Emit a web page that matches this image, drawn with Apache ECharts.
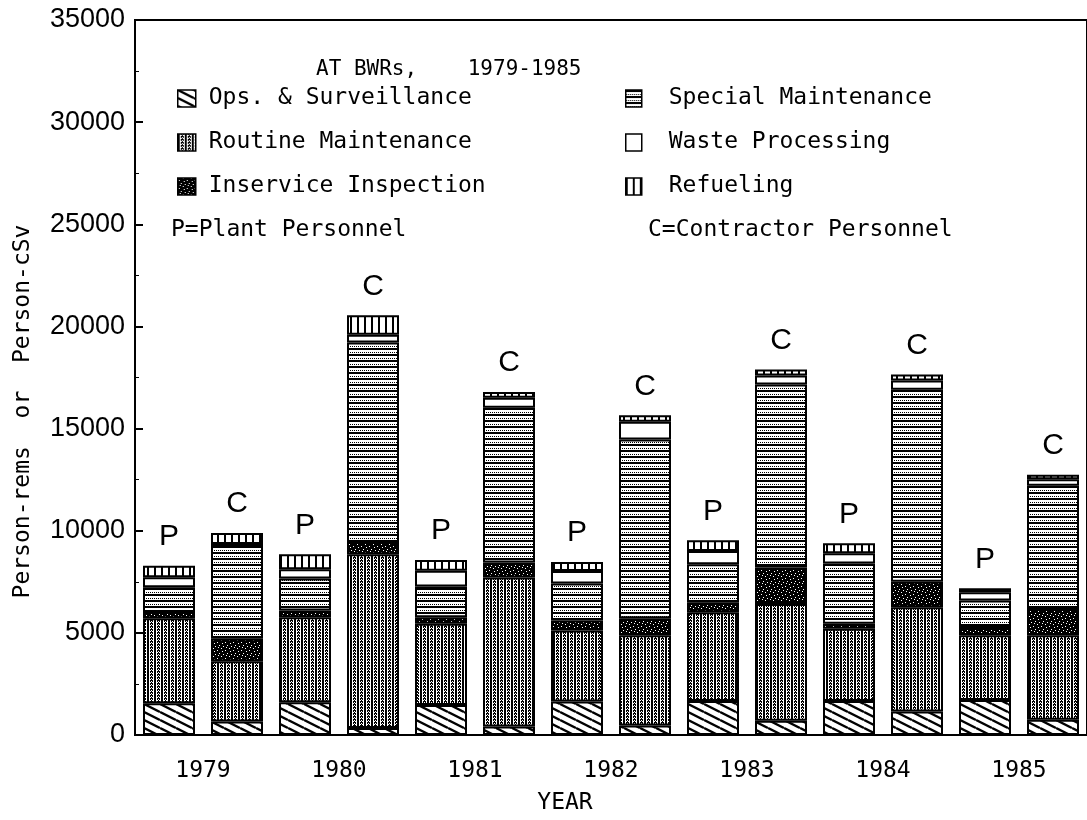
<!DOCTYPE html>
<html>
<head>
<meta charset="utf-8">
<script src="https://cdn.jsdelivr.net/npm/echarts@6/dist/echarts.min.js"></script>
<style>
html,body{margin:0;padding:0;background:#fff;}
#chart{width:1087px;height:820px;}
</style>
</head>
<body>
<div id="chart"></div>
<script>
// ---- data ----
const categories = ['1979','1979','1980','1980','1981','1981','1982','1982','1983','1983','1984','1984','1985','1985'];
const personnel = ['P','C','P','C','P','C','P','C','P','C','P','C','P','C'];
const years = ['1979','1980','1981','1982','1983','1984','1985'];
const yTicks = [0,5000,10000,15000,20000,25000,30000,35000];
const opsSurveillance   = [1556, 666, 1604, 340, 1474, 421, 1637, 470, 1669, 697, 1669, 1150, 1718, 745];
const routineMaint      = [4164, 2946, 4166, 8507, 3970, 7292, 3483, 4407, 4343, 5720, 3532, 5105, 3159, 4132];
const inserviceInsp     = [300, 1103, 321, 600, 324, 729, 486, 843, 486, 1782, 243, 1247, 357, 1296];
const specialMaint      = [1215, 4535, 1574, 9771, 1507, 7583, 1812, 8749, 1863, 8960, 2949, 9398, 1345, 6028];
const wasteProcessing   = [486, 100, 453, 372, 762, 486, 616, 859, 648, 438, 503, 454, 405, 324];
const refueling         = [566, 535, 729, 956, 535, 276, 437, 324, 519, 292, 486, 291, 194, 211];

// ---- patterns ----
function tile(w, h, draw) {
  const c = document.createElement('canvas');
  c.width = w; c.height = h;
  const ctx = c.getContext('2d');
  ctx.fillStyle = '#fff'; ctx.fillRect(0, 0, w, h);
  ctx.fillStyle = '#000'; ctx.strokeStyle = '#000';
  draw(ctx);
  return { image: c, repeat: 'repeat' };
}
const patOps = tile(16, 8, ctx => {
  ctx.lineWidth = 2.4;
  [-8, 0, 8].forEach(c0 => { ctx.beginPath(); ctx.moveTo(0, c0); ctx.lineTo(16, c0 + 8); ctx.stroke(); });
});
const patRoutine = tile(7, 3, ctx => {
  ctx.fillRect(0, 0, 2, 3);
  ctx.fillRect(3, 0, 1, 1); ctx.fillRect(5, 0, 1, 1);
  ctx.fillRect(4, 1, 1, 1); ctx.fillRect(3, 2, 3, 1);
});
const patInservice = tile(8, 8, ctx => {
  ctx.fillRect(0, 0, 8, 8);
  ctx.fillStyle = '#fff';
  [[1,2],[5,0],[3,5],[7,6],[6,3],[2,7]].forEach(p => ctx.fillRect(p[0], p[1], 1, 1));
});
const patSpecial = tile(8, 6, ctx => {
  ctx.fillRect(0, 0, 8, 2);
  for (let x = 0; x < 8; x += 2) ctx.fillRect(x, 4, 1, 1);
});
const patWaste = '#ffffff';
const patRefuel = tile(7, 4, ctx => { ctx.fillRect(0, 0, 2, 4); });

const monoFont = '"DejaVu Sans Mono", "Liberation Mono", monospace';
const sansFont = '"Liberation Sans", "DejaVu Sans", sans-serif';

function barSeries(name, data, color, withLabel) {
  const s = {
    name: name, type: 'bar', stack: 'total', data: data, barWidth: 52,
    itemStyle: { color: color, borderColor: '#000', borderWidth: 2 },
    emphasis: { disabled: true }
  };
  if (withLabel) {
    s.label = {
      show: true, position: 'top', distance: 14,
      formatter: p => personnel[p.dataIndex],
      fontSize: 30, fontFamily: sansFont, color: '#000'
    };
  }
  return s;
}

const chart = echarts.init(document.getElementById('chart'));
chart.setOption({
  animation: false,
  backgroundColor: '#fff',
  title: [
    { text: 'AT BWRs,    1979-1985', left: 311, top: 54, textStyle: { fontFamily: monoFont, fontSize: 21, fontWeight: 'normal', color: '#000' } },
    { text: 'P=Plant Personnel', left: 166, top: 214, textStyle: { fontFamily: monoFont, fontSize: 23, fontWeight: 'normal', color: '#000' } },
    { text: 'C=Contractor Personnel', left: 643, top: 214, textStyle: { fontFamily: monoFont, fontSize: 23, fontWeight: 'normal', color: '#000' } }
  ],
  legend: [
    { data: ['Ops. & Surveillance', 'Routine Maintenance', 'Inservice Inspection'],
      orient: 'vertical', left: 172, top: 82, itemGap: 21, itemWidth: 18, itemHeight: 17, icon: 'rect',
      selectedMode: false,
      itemStyle: { borderColor: '#000', borderWidth: 1.5 },
      textStyle: { fontFamily: monoFont, fontSize: 23, color: '#000', padding: [0, 0, 0, 8] } },
    { data: ['Special Maintenance', 'Waste Processing', 'Refueling'],
      orient: 'vertical', left: 620, top: 82, itemGap: 21, itemWidth: 16, itemHeight: 17, icon: 'rect',
      selectedMode: false,
      itemStyle: { borderColor: '#000', borderWidth: 1.5 },
      textStyle: { fontFamily: monoFont, fontSize: 23, color: '#000', padding: [0, 0, 0, 22] } }
  ],
  grid: { left: 135, top: 20, width: 962, height: 717, show: true, borderColor: '#000', borderWidth: 2, containLabel: false },
  xAxis: [
    { type: 'category', data: categories, gridIndex: 0,
      axisLine: { show: true, lineStyle: { color: '#000', width: 2 } },
      axisTick: { show: false }, axisLabel: { show: false } },
    { type: 'category', data: years, gridIndex: 0, position: 'bottom',
      axisLine: { show: false }, axisTick: { show: false },
      axisLabel: { fontFamily: monoFont, fontSize: 23, color: '#000', margin: 25 },
      name: 'YEAR', nameLocation: 'middle', nameGap: 57,
      nameTextStyle: { fontFamily: monoFont, fontSize: 23, color: '#000', padding: [0, 92, 0, 0] } }
  ],
  yAxis: {
    type: 'value', min: yTicks[0], max: yTicks[yTicks.length - 1], interval: 5000,
    axisLine: { show: true, lineStyle: { color: '#000', width: 2 } },
    axisTick: { show: true, inside: true, length: 8, lineStyle: { color: '#000', width: 2 } },
    minorTick: { show: true, splitNumber: 2, length: 4, lineStyle: { color: '#000', width: 1 } },
    splitLine: { show: false },
    axisLabel: { fontFamily: sansFont, fontSize: 27, color: '#000', margin: 10, formatter: v => String(v) },
    name: 'Person-rems  or  Person-cSv', nameLocation: 'middle', nameRotate: 90, nameGap: 100,
    nameTextStyle: { fontFamily: monoFont, fontSize: 23, color: '#000', padding: [0, 68, 0, 0] }
  },
  series: [
    barSeries('Ops. & Surveillance', opsSurveillance, patOps),
    barSeries('Routine Maintenance', routineMaint, patRoutine),
    barSeries('Inservice Inspection', inserviceInsp, patInservice),
    barSeries('Special Maintenance', specialMaint, patSpecial),
    barSeries('Waste Processing', wasteProcessing, patWaste),
    barSeries('Refueling', refueling, patRefuel, true)
  ]
});
</script>
</body>
</html>
